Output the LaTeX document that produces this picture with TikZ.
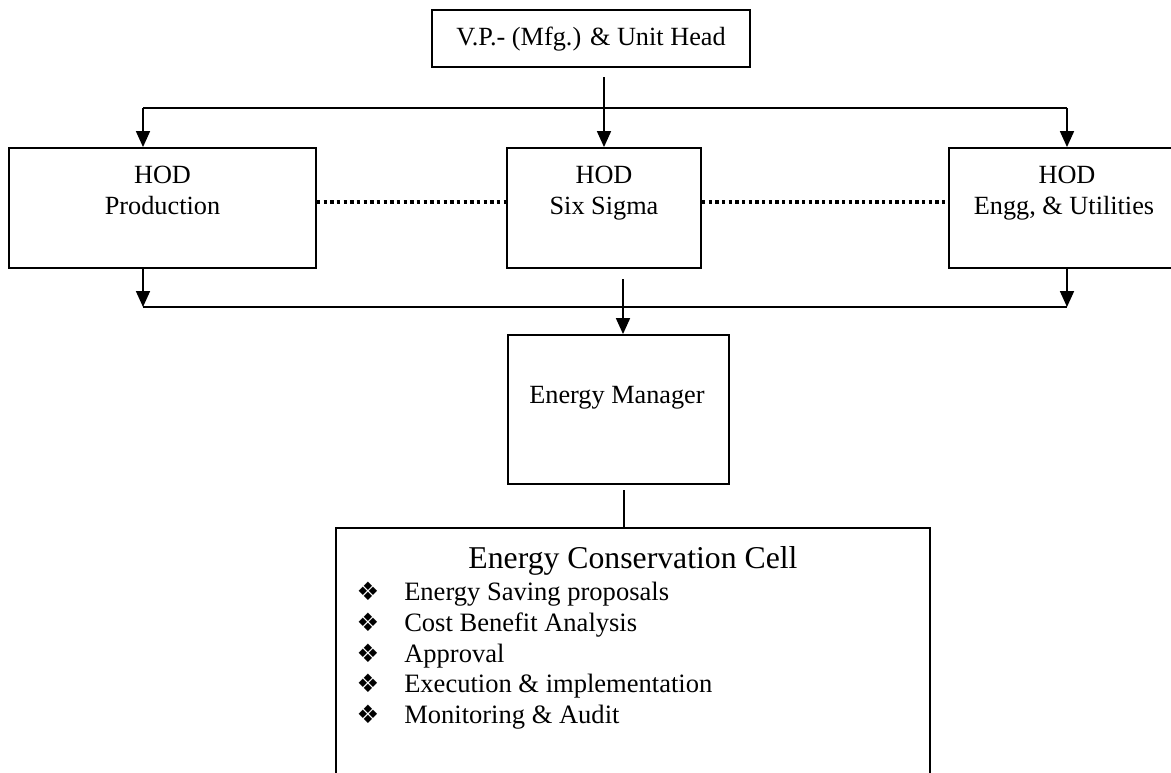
\documentclass[tikz,border=0pt]{standalone}
\usepackage{fontspec}
\setmainfont{Liberation Serif}
\newfontfamily\symfont{DejaVu Sans}
\usetikzlibrary{arrows.meta}
\tikzset{
  box/.style={draw, line width=1.4pt, rectangle, inner sep=0pt},
  txt/.style={anchor=base, inner sep=0pt, font=\fontsize{19.7}{22}\selectfont},
  title/.style={anchor=base, inner sep=0pt, font=\fontsize{23.8}{27}\selectfont},
  item/.style={anchor=base west, inner sep=0pt, font=\fontsize{19.9}{22}\selectfont},
  bul/.style={anchor=base, inner sep=0pt, font=\symfont\fontsize{19}{20}\selectfont},
  conn/.style={line width=1.3pt},
  arr/.style={line width=1.3pt, -{Triangle[length=12pt, width=10.5pt]}},
  dotline/.style={line width=2.6pt, dash pattern=on 2.6pt off 2.4pt}
}
\begin{document}
\begin{tikzpicture}[x=0.75pt, y=-0.75pt]
\useasboundingbox (0,0) rectangle (1171,772);
% boxes
\node[box, minimum width={318*0.75pt}, minimum height={57*0.75pt}] (vp) at (591,38.5) {};
\node[box, minimum width={307*0.75pt}, minimum height={120*0.75pt}] (prod) at (162.5,208) {};
\node[box, minimum width={194*0.75pt}, minimum height={120*0.75pt}] (six) at (604,208) {};
\node[box, minimum width={236*0.75pt}, minimum height={120*0.75pt}] (engg) at (1067,208) {};
\node[box, minimum width={221*0.75pt}, minimum height={149*0.75pt}] (em) at (618.5,409.5) {};
\node[box, minimum width={594*0.75pt}, minimum height={272*0.75pt}] (ecc) at (633,664) {};
% texts
\node[txt] (vpt) at (591,45) {V.P.- (Mfg.) \& Unit Head};
\node[txt] (prodt1) at (162.5,183) {HOD};
\node[txt] (prodt2) at (162.5,214) {Production};
\node[txt] (sixt1) at (604,183) {HOD};
\node[txt] (sixt2) at (604,214) {Six Sigma};
\node[txt] (enggt1) at (1067,183) {HOD};
\node[txt] (enggt2) at (1064,214) {Engg, \& Utilities};
\node[txt] (emt) at (617,403) {Energy Manager};
\node[title] (ecct) at (633,568) {Energy Conservation Cell};
\foreach \y/\t [count=\i] in {600/Energy Saving proposals,631/Cost Benefit Analysis,662/Approval,692/Execution \& implementation,723/Monitoring \& Audit}{
  \node[bul] (b\i) at (368,\y) {❖};
  \node[item] (it\i) at (404,\y) {\t};
}
% connectors
\coordinate (vp0) at (604,77);
\draw[arr] (vp0) -- (vp0 |- six.north);
\coordinate (tl) at (143,108);
\coordinate (tr) at (1067,108);
\draw[conn] (tl) -- (tr);
\draw[arr] (tl) -- (tl |- prod.north);
\draw[arr] (tr) -- (tr |- engg.north);
\coordinate (bl) at (143,307);
\coordinate (br) at (1067,307);
\draw[conn] (bl) -- (br);
\draw[arr] (bl |- prod.south) -- (bl);
\draw[arr] (br |- engg.south) -- (br);
\coordinate (s0) at (623,279);
\draw[arr] (s0) -- (s0 |- em.north);
\coordinate (e0) at (624,490);
\draw[conn] (e0) -- (e0 |- ecc.north);
\coordinate (d0) at (316,202);
\draw[dotline] (d0 -| prod.east) -- (d0 -| six.west);
\draw[dotline] (d0 -| six.east) -- (d0 -| engg.west);
\end{tikzpicture}
\end{document}
